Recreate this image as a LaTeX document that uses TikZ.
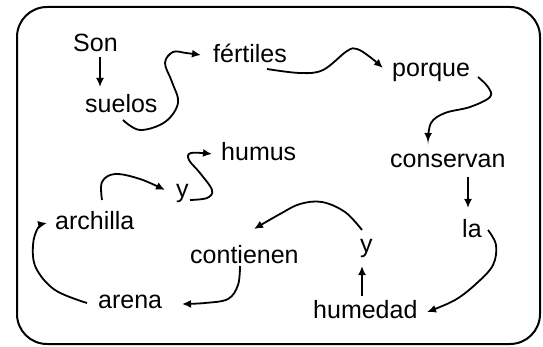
\documentclass[tikz,border=0pt]{standalone}
\usepackage{fontspec}
\setmainfont{Liberation Sans}
\usetikzlibrary{arrows.meta}
\begin{document}
\begin{tikzpicture}[x=1pt,y=-1pt,
  word/.style={anchor=base west,inner sep=0pt,font=\fontsize{25}{30}\selectfont},
  arr/.style={line width=1.8pt,-{Latex[length=9pt,width=8pt]}},
  frame/.style={line width=2pt,rounded corners=30pt}]
\useasboundingbox (0,0) rectangle (543,347);
\draw[frame] (17,7) rectangle (540,344);

\node[word] (son) at (73,52) {Son};
\node[word] (suelos) at (85,113) {suelos};
\node[word] (fertiles) at (213,63) {fértiles};
\node[word] (porque) at (392,77) {porque};
\node[word] (conservan) at (390,168) {conservan};
\node[word] (la) at (462,238) {la};
\node[word] (humedad) at (313,318) {humedad};
\node[word] (yr) at (360,253) {y};
\node[word] (contienen) at (190,263) {contienen};
\node[word] (arena) at (98,308) {arena};
\node[word] (archilla) at (55,230) {archilla};
\node[word] (yl) at (176,198) {y};
\node[word] (humus) at (221,161) {humus};

% Son -> suelos
\draw[arr] ([shift={(27,5)}]son.base west) -- ([shift={(15,-26)}]suelos.base west);
% suelos -> fertiles
\draw[arr] plot[smooth,tension=0.6] coordinates {([shift={(38,7)}]suelos.base west) (140,130) (165,122) (178,103) (172,82) (165,63) (173,52) (186,53) ([shift={(-12,-8)}]fertiles.base west)};
% fertiles -> porque
\draw[arr] plot[smooth,tension=0.6] coordinates {([shift={(54,6)}]fertiles.base west) (300,73) (323,70) (347,51) (357,49) (370,57) ([shift={(-9,-9)}]porque.base west)};
% porque -> conservan
\draw[arr] plot[smooth,tension=0.6] coordinates {([shift={(86,0)}]porque.base west) (488,87) (490,97) (470,107) (445,113) (431,123) ([shift={(38,-26)}]conservan.base west)};
% conservan -> la
\draw[arr] ([shift={(78,9)}]conservan.base west) -- ([shift={(6,-30)}]la.base west);
% la -> humedad
\draw[arr] plot[smooth,tension=0.6] coordinates {([shift={(26,-8)}]la.base west) (496,245) (493,265) (477,283) (455,300) ([shift={(114,-6)}]humedad.base west)};
% humedad -> y
\draw[arr] ([shift={(49,-22)}]humedad.base west) -- ([shift={(2,13)}]yr.base west);
% y -> contienen
\draw[arr] plot[smooth,tension=0.6] coordinates {([shift={(2,-23)}]yr.base west) (345,212) (322,202) (300,204) (280,214) ([shift={(64,-34)}]contienen.base west)};
% contienen -> arena
\draw[arr] plot[smooth,tension=0.6] coordinates {([shift={(50,3)}]contienen.base west) (238,285) (228,299) (205,303) ([shift={(84,-4)}]arena.base west)};
% arena -> archilla
\draw[arr] plot[smooth,tension=0.6] coordinates {([shift={(-11,-5)}]arena.base west) (55,290) (36,268) (33,245) (38,228) ([shift={(-8,-7)}]archilla.base west)};
% archilla -> y
\draw[arr] plot[smooth,tension=0.6] coordinates {([shift={(47,-30)}]archilla.base west) (102,182) (115,174) (140,179) ([shift={(-11,-8)}]yl.base west)};
% y -> humus
\draw[arr] plot[smooth,tension=0.6] coordinates {([shift={(14,2)}]yl.base west) (207,198) (212,190) (200,173) (189,160) (191,153) ([shift={(-9,-7)}]humus.base west)};
\end{tikzpicture}
\end{document}
